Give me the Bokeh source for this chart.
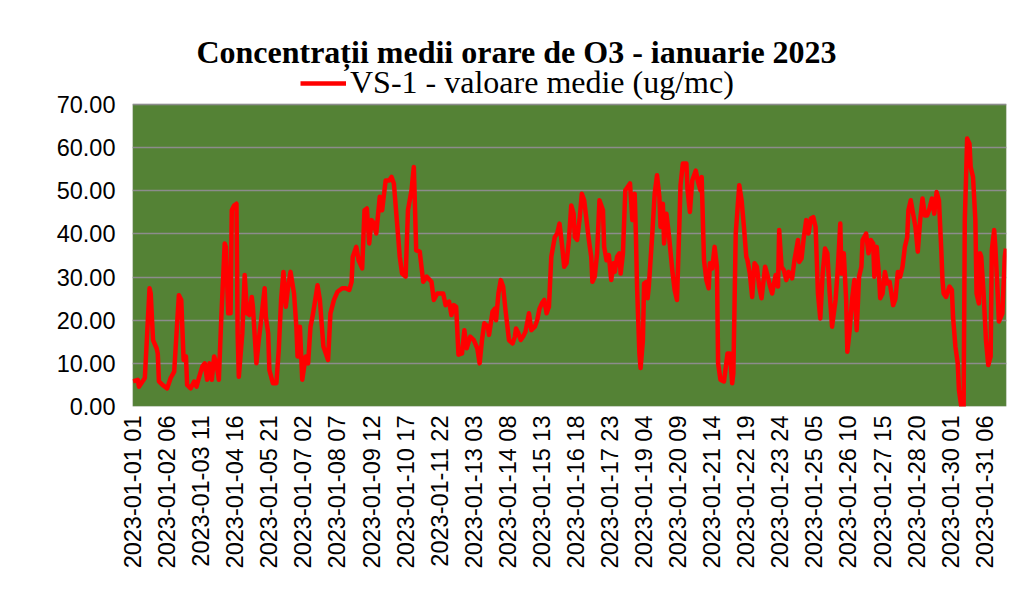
import math
from bokeh.plotting import figure
from bokeh.models import (Range1d, FixedTicker, NumeralTickFormatter, Label,
                          Legend, LegendItem, ColumnDataSource, BoxAnnotation)
from bokeh.embed import file_html
from bokeh.resources import INLINE

TITLE = "Concentrații medii orare de O3 - ianuarie 2023"
SERIES_NAME = "VS-1 - valoare medie (ug/mc)"

TICK_LABELS = [
    "2023-01-01 01", "2023-01-02 06", "2023-01-03 11", "2023-01-04 16",
    "2023-01-05 21", "2023-01-07 02", "2023-01-08 07", "2023-01-09 12",
    "2023-01-10 17", "2023-01-11 22", "2023-01-13 03", "2023-01-14 08",
    "2023-01-15 13", "2023-01-16 18", "2023-01-17 23", "2023-01-19 04",
    "2023-01-20 09", "2023-01-21 14", "2023-01-22 19", "2023-01-23 24",
    "2023-01-25 05", "2023-01-26 10", "2023-01-27 15", "2023-01-28 20",
    "2023-01-30 01", "2023-01-31 06",
]
TICK_STEP_HOURS = 29
N_HOURS = 744

# hour index (0 = 2023-01-01 01) and hourly mean O3 (ug/mc)
HOURS = [
    0, 4, 5, 10, 12, 14, 15, 17, 20, 21, 22, 25, 29, 32, 35, 37, 39, 41, 43, 45,
    46, 49, 52, 54, 56, 59, 61, 63, 65, 67, 69, 71, 73, 75, 78, 79, 81, 83, 84, 86,
    88, 89, 90, 93, 95, 97, 99, 101, 102, 105, 107, 109, 112, 113, 115, 116, 119, 122, 124, 126,
    128, 130, 132, 134, 137, 139, 140, 142, 144, 147, 149, 151, 153, 157, 159, 162, 166, 168, 171, 174,
    178, 181, 184, 186, 187, 190, 192, 195, 197, 199, 201, 203, 205, 207, 210, 212, 215, 218, 220, 222,
    225, 227, 229, 232, 234, 237, 239, 241, 244, 247, 250, 254, 256, 259, 264, 266, 269, 271, 273, 275,
    277, 280, 282, 284, 287, 290, 293, 295, 297, 299, 302, 303, 306, 308, 309, 311, 313, 315, 317, 320,
    323, 325, 326, 328, 330, 332, 334, 337, 339, 342, 344, 346, 348, 350, 352, 354, 356, 359, 361, 363,
    365, 367, 369, 371, 373, 375, 376, 378, 380, 382, 384, 386, 388, 390, 391, 393, 395, 397, 400, 401,
    403, 405, 407, 409, 410, 412, 414, 415, 417, 419, 421, 423, 425, 427, 428, 429, 431, 432, 434, 435,
    437, 438, 439, 442, 444, 446, 448, 449, 451, 452, 454, 456, 459, 461, 463, 465, 466, 468, 471, 472,
    474, 476, 479, 481, 483, 484, 486, 488, 490, 491, 493, 495, 497, 498, 500, 503, 506, 508, 510, 511,
    513, 516, 518, 520, 522, 523, 525, 527, 529, 531, 533, 535, 538, 540, 542, 544, 547, 549, 550, 552,
    554, 556, 558, 561, 563, 566, 567, 569, 571, 573, 575, 577, 579, 581, 583, 585, 587, 589, 591, 593,
    595, 598, 600, 602, 603, 605, 607, 608, 610, 612, 614, 616, 618, 620, 621, 624, 626, 628, 630, 631,
    633, 635, 636, 638, 640, 642, 644, 646, 647, 649, 651, 653, 655, 657, 659, 660, 662, 664, 666, 668,
    670, 672, 674, 676, 678, 680, 682, 684, 686, 688, 689, 690, 692, 695, 697, 698, 700, 702, 703, 705,
    707, 708, 709, 710, 712, 713, 715, 717, 718, 720, 721, 722, 724, 726, 728, 730, 731, 733, 734, 736,
    737, 740, 742, 743,
]
O3 = [
    5.8, 6.2, 4.6, 6.6, 17.0, 27.4, 26.2, 15.4, 13.5, 12.3, 5.8, 5.0, 4.2, 6.6, 8.1, 17.0, 25.8, 24.7, 10.8, 11.6,
    5.0, 4.2, 5.8, 4.6, 6.6, 9.3, 10.0, 6.2, 10.0, 6.2, 11.6, 10.0, 6.2, 20.0, 37.8, 37.0, 21.6, 21.6, 45.5, 46.6,
    47.0, 17.0, 6.9, 17.0, 30.5, 21.6, 21.2, 25.4, 23.1, 10.0, 15.4, 20.0, 27.4, 20.8, 17.0, 8.5, 5.4, 5.4, 13.1, 24.7,
    31.2, 23.1, 27.8, 31.2, 26.2, 18.5, 11.6, 18.5, 6.2, 11.6, 10.0, 18.5, 21.2, 28.1, 24.7, 13.9, 10.8, 21.6, 24.7, 26.6,
    27.4, 27.4, 27.0, 28.9, 34.7, 37.0, 33.9, 32.0, 45.5, 45.9, 37.8, 43.2, 42.4, 40.1, 48.6, 45.5, 52.4, 52.4, 53.2, 51.7,
    41.6, 34.7, 30.8, 30.1, 45.5, 50.1, 55.5, 36.2, 35.9, 28.9, 30.1, 28.9, 24.7, 26.2, 26.2, 23.5, 24.3, 21.2, 23.5, 23.1,
    12.0, 12.3, 17.7, 13.5, 16.2, 15.4, 13.5, 10.0, 15.4, 19.3, 18.5, 16.6, 22.0, 22.7, 20.0, 26.2, 29.3, 27.8, 22.4, 15.4,
    14.6, 16.2, 18.1, 17.0, 15.4, 16.2, 17.3, 21.6, 17.7, 18.5, 20.0, 22.7, 23.9, 24.7, 21.6, 23.1, 34.7, 39.3, 40.1, 42.4,
    37.8, 32.4, 33.2, 38.6, 46.6, 44.7, 39.3, 38.6, 43.2, 49.3, 47.8, 43.2, 38.6, 34.7, 28.9, 30.1, 35.5, 47.8, 45.5, 37.0,
    33.9, 35.1, 29.3, 33.2, 31.2, 34.7, 35.5, 30.8, 35.5, 50.1, 50.9, 51.7, 43.2, 49.3, 40.1, 27.8, 12.3, 8.9, 15.4, 28.5,
    28.9, 25.1, 27.8, 40.1, 49.3, 53.6, 48.6, 41.6, 47.0, 37.8, 44.7, 40.1, 31.6, 27.0, 24.7, 42.0, 51.3, 56.3, 56.3, 50.1,
    45.1, 52.4, 54.7, 52.0, 50.1, 53.2, 33.9, 29.3, 27.4, 33.2, 32.0, 37.0, 32.4, 10.0, 6.2, 5.8, 12.3, 12.3, 5.4, 7.7,
    40.1, 51.3, 47.8, 41.6, 34.7, 33.9, 30.8, 25.4, 33.2, 32.4, 27.8, 25.1, 32.4, 30.5, 28.1, 26.2, 30.5, 27.8, 40.9, 32.4,
    31.6, 29.3, 31.2, 29.7, 33.9, 38.6, 33.5, 34.3, 39.3, 43.2, 40.1, 43.6, 43.9, 41.6, 26.2, 20.4, 30.8, 36.6, 35.5, 26.2,
    18.5, 24.7, 32.4, 42.4, 30.8, 35.5, 24.7, 12.7, 17.7, 24.7, 29.3, 17.7, 30.1, 32.4, 38.6, 40.1, 35.5, 38.6, 37.8, 30.1,
    37.0, 30.1, 25.1, 26.2, 31.2, 28.5, 28.9, 25.4, 23.5, 25.0, 31.2, 30.1, 32.4, 37.0, 39.3, 45.5, 47.8, 44.7, 41.6, 35.9,
    43.2, 48.2, 44.3, 44.3, 45.9, 48.2, 44.7, 49.7, 47.8, 36.2, 29.3, 26.2, 25.4, 27.8, 27.0, 20.8, 13.9, 10.0, 3.9, 0.0,
    0.0, 43.2, 52.4, 62.1, 60.9, 55.5, 53.2, 43.2, 26.2, 23.9, 35.5, 34.7, 26.2, 15.4, 9.6, 11.6, 36.2, 40.9, 37.0, 26.2,
    19.7, 21.6, 34.7, 36.6,
]

Y_MIN, Y_MAX, Y_STEP = 0, 70, 10

# layout (pixels)
FRAME_TOP_PX = 0       # frame reaches the top so header texts are not clipped
PLOT_TOP_PX = 104      # top of the green plot area
PLOT_BOTTOM_PX = 406   # bottom of the green plot area
y_top = Y_MAX * (PLOT_BOTTOM_PX - FRAME_TOP_PX) / (PLOT_BOTTOM_PX - PLOT_TOP_PX)

tick_pos = [i * TICK_STEP_HOURS for i in range(len(TICK_LABELS))]

p = figure(width=1010, height=596, output_backend="svg", toolbar_location=None,
           x_range=Range1d(-0.5, N_HOURS - 0.5), y_range=Range1d(Y_MIN, y_top),
           min_border_left=132, min_border_right=4, min_border_top=0,
           min_border_bottom=596 - PLOT_BOTTOM_PX)
p.title.visible = False
p.background_fill_color = "white"
p.border_fill_color = "white"
p.outline_line_color = None

area = BoxAnnotation(bottom=Y_MIN, top=Y_MAX, fill_color="#548235", fill_alpha=1,
                     line_color="#8c8c8c", line_width=1.5, level="image")
p.add_layout(area)

p.xgrid.grid_line_color = None
p.ygrid.grid_line_color = "#8c8c8c"
p.ygrid.grid_line_width = 1.5
p.ygrid.ticker = FixedTicker(ticks=list(range(Y_MIN, Y_MAX + 1, Y_STEP)))
p.yaxis.ticker = FixedTicker(ticks=list(range(Y_MIN, Y_MAX + 1, Y_STEP)))
p.yaxis.formatter = NumeralTickFormatter(format="0.00")

p.xaxis.ticker = FixedTicker(ticks=tick_pos)
p.xaxis.major_label_overrides = {t: lab for t, lab in zip(tick_pos, TICK_LABELS)}
p.xaxis.major_label_orientation = math.pi / 2

for ax in (p.xaxis[0], p.yaxis[0]):
    ax.axis_line_color = None
    ax.major_tick_line_color = None
    ax.minor_tick_line_color = None
    ax.major_tick_out = 0
    ax.major_tick_in = 0
    ax.major_label_text_font = "Liberation Sans"
    ax.major_label_text_font_size = "23.5px"
    ax.major_label_text_color = "black"
p.yaxis.major_label_standoff = 17
p.xaxis.major_label_standoff = 9

src = ColumnDataSource(data=dict(h=HOURS, v=O3))
r = p.line("h", "v", source=src, line_color="#FF0000", line_width=4.5,
           line_join="round")

legend = Legend(items=[LegendItem(label=SERIES_NAME, renderers=[r])],
                location=(168, PLOT_BOTTOM_PX - 101), orientation="horizontal",
                label_text_font="Liberation Serif", label_text_font_size="32px",
                label_text_color="black", glyph_width=46, glyph_height=36,
                label_height=36, padding=0, margin=0,
                label_standoff=4, border_line_alpha=0, background_fill_alpha=0)
p.add_layout(legend, "center")

title = Label(x=384, y=PLOT_BOTTOM_PX - 51, x_units="screen", y_units="screen",
              text=TITLE, text_align="center", text_baseline="alphabetic",
              text_font="Liberation Serif", text_font_style="bold",
              text_font_size="32px", text_color="black")
p.add_layout(title)

open("out.html", "w").write(file_html(p, INLINE))
